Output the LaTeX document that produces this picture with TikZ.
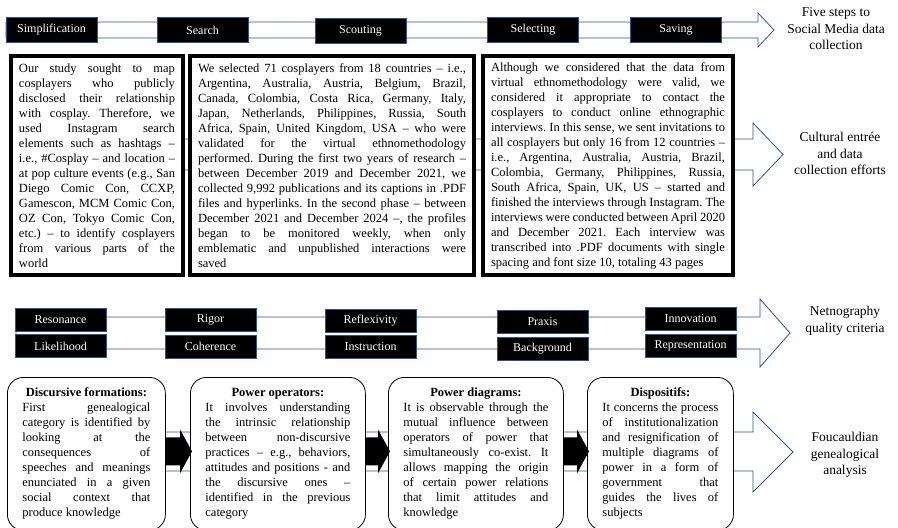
\documentclass[tikz,border=0pt]{standalone}
\usepackage{fontspec}
\setmainfont{Liberation Serif}
\newfontfamily\tnr{Liberation Serif}
\usetikzlibrary{calc}
\definecolor{arrowblue}{RGB}{47,82,143}
\tolerance=10000
\hbadness=10000
\frenchspacing

\begin{document}
\begin{tikzpicture}[x=1pt,y=-1pt,
  bigarrow/.style={draw=arrowblue, fill=white, line width=0.8pt, line join=miter},
  stepbox/.style={draw=arrowblue, fill=black, text=white, minimum width=91pt, minimum height=25pt, inner sep=0pt, font=\tnr\fontsize{12}{14}\selectfont},
  critbox/.style={stepbox, minimum height=23pt},
  textbox/.style={draw=black, fill=white, line width=4pt, anchor=north west, inner xsep=8pt, align=justify, minimum height=219pt, font=\tnr\fontsize{12.5}{15}\selectfont},
  genbox/.style={draw=black, fill=white, line width=0.8pt, rounded corners=16pt, anchor=north west, inner xsep=15pt, align=justify, minimum height=153pt, font=\tnr\fontsize{12.5}{15}\selectfont},
  sidelabel/.style={align=center, font=\tnr\fontsize{13.5}{16.5}\selectfont}]
\useasboundingbox (0,0) rectangle (898,528);
\clip (0,0) rectangle (898,528);

% big outlined arrows
\draw[bigarrow] (6,22) -- (758,22) -- (758,13) -- (774,30) -- (758,47) -- (758,38) -- (6,38) -- cycle;
\draw[bigarrow] (10,139) -- (753,139) -- (753,123) -- (783,154.5) -- (753,186) -- (753,170) -- (10,170) -- cycle;
\draw[bigarrow] (16,317) -- (760,317) -- (760,299) -- (790,333) -- (760,367) -- (760,349) -- (16,349) -- cycle;
\draw[bigarrow] (10,432) -- (753,432) -- (753,412) -- (793,452) -- (753,492) -- (753,471) -- (10,471) -- cycle;

% five steps
\node[stepbox] (simp) at (51.5,29.5) {Simplification};
\node[stepbox] (search) at (202.5,30) {Search};
\node[stepbox] (scout) at (360.5,30.5) {Scouting};
\node[stepbox] (select) at (533,29.5) {Selecting};
\node[stepbox] (save) at (676,29.5) {Saving};

% cultural entree
\node[textbox, text width=156pt] (study) at (9,54) {Our study sought to map\linebreak
cosplayers who publicly\linebreak
disclosed their relationship\linebreak
with cosplay. Therefore, we\linebreak
used Instagram search\linebreak
elements such as hashtags –\linebreak
i.e., \#Cosplay – and location –\linebreak
at pop culture events (e.g., San\linebreak
Diego Comic Con, CCXP,\linebreak
Gamescon, MCM Comic Con,\linebreak
OZ Con, Tokyo Comic Con,\linebreak
etc.) – to identify cosplayers\linebreak
from various parts of the\linebreak
world};
\node[textbox, text width=268pt] (selected) at (188,54) {We selected 71 cosplayers from 18 countries – i.e.,\linebreak
Argentina, Australia, Austria, Belgium, Brazil,\linebreak
Canada, Colombia, Costa Rica, Germany, Italy,\linebreak
Japan, Netherlands, Philippines, Russia, South\linebreak
Africa, Spain, United Kingdom, USA – who were\linebreak
validated for the virtual ethnomethodology\linebreak
performed. During the first two years of research –\linebreak
between December 2019 and December 2021, we\linebreak
collected 9,992 publications and its captions in .PDF\linebreak
files and hyperlinks. In the second phase – between\linebreak
December 2021 and December 2024 –, the profiles\linebreak
began to be monitored weekly, when only\linebreak
emblematic and unpublished interactions were\linebreak
saved};
\node[textbox, text width=234pt] (interviews) at (481,54) {Although we considered that the data from\linebreak
virtual ethnomethodology were valid, we\linebreak
considered it appropriate to contact the\linebreak
cosplayers to conduct online ethnographic\linebreak
interviews. In this sense, we sent invitations to\linebreak
all cosplayers but only 16 from 12 countries –\linebreak
i.e., Argentina, Australia, Austria, Brazil,\linebreak
Colombia, Germany, Philippines, Russia,\linebreak
South Africa, Spain, UK, US – started and\linebreak
finished the interviews through Instagram. The\linebreak
interviews were conducted between April 2020\linebreak
and December 2021. Each interview was\linebreak
transcribed into .PDF documents with single\linebreak
spacing and font size 10, totaling 43 pages};

% quality criteria
\node[critbox] (reso) at (60.5,319.5) {Resonance};
\node[critbox] (rigor) at (210.5,319.5) {Rigor};
\node[critbox] (refl) at (370.5,320.5) {Reflexivity};
\node[critbox] (praxis) at (542.5,321.5) {Praxis};
\node[critbox] (innov) at (690.5,319) {Innovation};
\node[critbox] (likeli) at (60.5,346) {Likelihood};
\node[critbox] (coher) at (210.5,346.5) {Coherence};
\node[critbox] (instr) at (370.5,346.5) {Instruction};
\node[critbox] (backg) at (542.5,348.5) {Background};
\node[critbox] (repres) at (690.5,346) {Representation};

% genealogical analysis
\node[genbox, text width=128pt] (df) at (7,377) {{\centering\textbf{Discursive formations:}\par}
First genealogical\linebreak
category is identified by\linebreak
looking at the\linebreak
consequences of\linebreak
speeches and meanings\linebreak
enunciated in a given\linebreak
social context that\linebreak
produce knowledge};
\node[genbox, text width=145pt] (po) at (190,377) {{\centering\textbf{Power operators:}\par}
It involves understanding\linebreak
the intrinsic relationship\linebreak
between non-discursive\linebreak
practices – e.g., behaviors,\linebreak
attitudes and positions - and\linebreak
the discursive ones –\linebreak
identified in the previous\linebreak
category};
\node[genbox, text width=145pt] (pd) at (388,377) {{\centering\textbf{Power diagrams:}\par}
It is observable through the\linebreak
mutual influence between\linebreak
operators of power that\linebreak
simultaneously co-exist. It\linebreak
allows mapping the origin\linebreak
of certain power relations\linebreak
that limit attitudes and\linebreak
knowledge};
\node[genbox, text width=116pt] (dp) at (587,377) {{\centering\textbf{Dispositifs:}\par}
It concerns the process\linebreak
of institutionalization\linebreak
and resignification of\linebreak
multiple diagrams of\linebreak
power in a form of\linebreak
government that\linebreak
guides the lives of\linebreak
subjects};

\foreach \a/\b in {df/po, po/pd, pd/dp}
  \fill ($(\a.east)+(0,-16.5)$) -- ($(\b.west)+(-10,-16.5)$) -- ($(\b.west)+(-10,-24.5)$) -- ($(\b.west)+(2,-2.5)$)
    -- ($(\b.west)+(-10,19.5)$) -- ($(\b.west)+(-10,11.5)$) -- ($(\a.east)+(0,11.5)$) -- cycle;

% side labels
\node[sidelabel] (lsteps) at (836,29) {Five steps to\\Social Media data\\collection};
\node[sidelabel] (lentree) at (840,153.5) {Cultural entrée\\and data\\collection efforts};
\node[sidelabel] (lquality) at (845,321) {Netnography\\quality criteria};
\node[sidelabel] (lfouc) at (845,455) {Foucauldian\\genealogical\\analysis};
\end{tikzpicture}
\end{document}
